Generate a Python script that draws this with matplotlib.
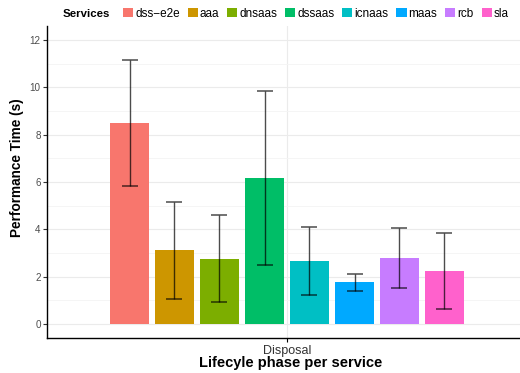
import numpy as np
import matplotlib.pyplot as plt
from matplotlib.patches import Patch

plt.rcParams['font.family'] = ['Liberation Sans', 'DejaVu Sans']

services = ['dss\u2212e2e', 'aaa', 'dnsaas', 'dssaas', 'icnaas', 'maas', 'rcb', 'sla']
mean_time = [8.49, 3.12, 2.75, 6.17, 2.66, 1.76, 2.77, 2.24]
sd_time = [2.66, 2.05, 1.84, 3.69, 1.44, 0.36, 1.27, 1.62]
phases = ['Disposal']
colors = ['#F8766D', '#CD9600', '#7CAE00', '#00BE67', '#00BFC4', '#00A9FF', '#C77CFF', '#FF61CC']

W, H = 520, 373
fig = plt.figure(figsize=(W/100, H/100), dpi=100)
ax = fig.add_axes([47/W, 35/H, 480/W, 312/H])

n = len(services)
dodge = 0.9 / n
barw = 0.0975
x0 = 1.0
for i in range(n):
    xi = x0 - 0.45 + dodge*(i + 0.5)
    ax.bar(xi, mean_time[i], width=barw, color=colors[i], zorder=2)
    ax.errorbar(xi, mean_time[i], yerr=sd_time[i], fmt='none', ecolor='black',
                elinewidth=1.0, capsize=6, capthick=1.1, alpha=0.7, zorder=3)

ax.set_xlim(0.4, 1.6)
ax.set_ylim(-0.6, 12.6)
ax.set_xticks([1.0])
ax.set_xticklabels(phases)
ax.set_yticks(np.arange(0, 13, 2))
ax.set_yticks(np.arange(1, 13, 2), minor=True)
ax.grid(True, which='major', color='#ebebeb', lw=0.8, zorder=0)
ax.grid(True, which='minor', axis='y', color='#f4f4f4', lw=0.6, zorder=0)
ax.set_axisbelow(True)
for s in ['top', 'right']:
    ax.spines[s].set_visible(False)
ax.spines['left'].set_linewidth(1.0)
ax.spines['bottom'].set_linewidth(1.0)
ax.tick_params(axis='y', which='major', labelsize=7.1, length=3, pad=1.5,
               colors='#333333', labelcolor='#4d4d4d')
ax.tick_params(axis='y', which='minor', length=0)
ax.tick_params(axis='x', labelsize=9, length=3, pad=2, labelcolor='#333333')

# axis titles placed in figure pixels
fig.text(17.5/W, 1 - 167.5/H, 'Performance Time (s)', fontsize=9.8, fontweight='bold',
         rotation=90, ha='center', va='center')
fig.text(290.5/W, 1 - 363/H, 'Lifecyle phase per service', fontsize=10.5, fontweight='bold',
         ha='center', va='center')

fig.text(63/W, 1 - 13.8/H, 'Services', fontsize=8.2, fontweight='bold', va='center', ha='left')
handles = [Patch(facecolor=c, edgecolor='none') for c in colors]
fig.legend(handles, services, loc='center left', bbox_to_anchor=(123/W, 1 - 13.8/H),
           ncol=n, frameon=False, fontsize=8.5, handlelength=0.85, handleheight=0.8,
           handletextpad=0.17, columnspacing=0.68, borderaxespad=0, borderpad=0)

fig.savefig('out.png', dpi=100)
